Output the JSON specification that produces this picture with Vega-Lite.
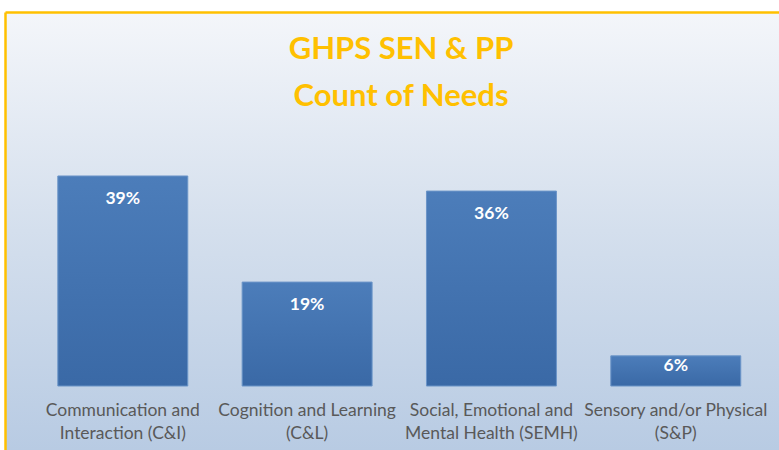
{
  "$schema": "https://vega.github.io/schema/vega-lite/v6.json",
  "autosize": "none",
  "width": 774,
  "height": 438,
  "padding": {"left": 5, "top": 12, "right": 0, "bottom": 0},
  "background": "white",
  "title": {
    "text": ["GHPS SEN & PP", "Count of Needs"],
    "color": "#FFC000",
    "font": "Lato",
    "fontWeight": "bold",
    "fontSize": 31,
    "lineHeight": 47,
    "anchor": "middle",
    "dx": 9,
    "dy": 101,
    "offset": 0
  },
  "config": {
    "view": {
      "stroke": null,
      "fill": {
        "gradient": "linear",
        "x1": 0, "y1": 0, "x2": 0, "y2": 1,
        "stops": [
          {"offset": 0, "color": "#f4f6fa"},
          {"offset": 0.5, "color": "#d4dfed"},
          {"offset": 1, "color": "#b8cbe3"}
        ]
      }
    }
  },
  "data": {
    "values": [
      {"need": "C&I", "label": "Communication and\nInteraction (C&I)", "pct": 39, "text": "39%"},
      {"need": "C&L", "label": "Cognition and Learning\n(C&L)", "pct": 19.3, "text": "19%"},
      {"need": "SEMH", "label": "Social, Emotional and\nMental Health (SEMH)", "pct": 36.2, "text": "36%"},
      {"need": "S&P", "label": "Sensory and/or Physical\n(S&P)", "pct": 5.6, "text": "6%"}
    ]
  },
  "encoding": {
    "x": {
      "field": "need",
      "type": "nominal",
      "sort": null,
      "scale": {"paddingInner": 0.295, "paddingOuter": 0.247, "align": 0.58},
      "axis": {"orient": "top", "title": null, "labels": false, "ticks": false, "domainColor": "#FFC000", "domainWidth": 2.5}
    }
  },
  "layer": [
    {
      "mark": {
        "type": "bar",
        "stroke": "#6b95c8",
        "strokeWidth": 1,
        "fill": {
          "gradient": "linear",
          "x1": 0, "y1": 0, "x2": 0, "y2": 1,
          "stops": [
            {"offset": 0, "color": "#4c7dba"},
            {"offset": 1, "color": "#3a69a6"}
          ]
        }
      },
      "encoding": {
        "y": {
          "field": "pct",
          "type": "quantitative",
          "scale": {"domain": [-11.88, 69.45], "nice": false, "zero": false},
          "axis": {"title": null, "labels": false, "ticks": false, "grid": false, "domainColor": "#FFC000", "domainWidth": 2.5}
        },
        "y2": {"datum": 0}
      }
    },
    {
      "transform": [{"filter": "datum.pct > 10"}],
      "mark": {"type": "text", "color": "white", "font": "Lato", "fontWeight": "bold", "fontSize": 17.5, "baseline": "middle", "dy": 23},
      "encoding": {
        "y": {"field": "pct", "type": "quantitative"},
        "text": {"field": "text"}
      }
    },
    {
      "transform": [{"filter": "datum.pct <= 10"}],
      "mark": {"type": "text", "color": "white", "font": "Lato", "fontWeight": "bold", "fontSize": 17.5, "baseline": "middle", "dy": 10},
      "encoding": {
        "y": {"field": "pct", "type": "quantitative"},
        "text": {"field": "text"}
      }
    },
    {
      "mark": {"type": "text", "color": "#595959", "font": "Lato", "fontSize": 17.5, "baseline": "top", "lineBreak": "\n", "lineHeight": 23},
      "encoding": {
        "y": {"datum": -2.9},
        "text": {"field": "label"}
      }
    }
  ]
}
